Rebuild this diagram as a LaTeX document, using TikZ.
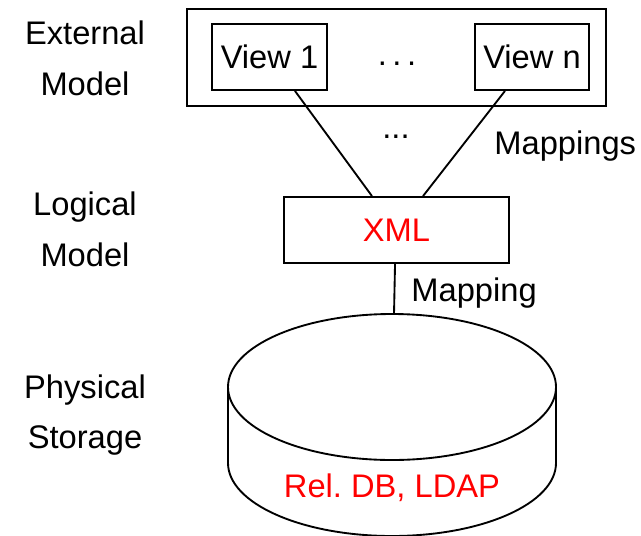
\documentclass[tikz,border=0pt]{standalone}
\usepackage{fontspec}
\setmainfont{Liberation Sans}
\usetikzlibrary{calc}
\frenchspacing
\begin{document}
\begin{tikzpicture}[x=0.75pt,y=-0.75pt,
  line width=1.4pt,
  every node/.style={font=\fontsize{24.5}{38}\selectfont},
  box/.style={draw,rectangle,inner sep=0pt},
  layer/.style={align=center},
  redtext/.style={text=red}]
\useasboundingbox (0,0) rectangle (641,535);

% layer captions
\node[layer] (ext)  at (85,58)  {External\\Model};
\node[layer] (log)  at (85,229) {Logical\\Model};
\node[layer] (phys) at (85,415) {Physical\\Storage};

% external model: views inside a frame
\node[box,minimum width=314.25pt,minimum height=72.75pt] (frame) at (396.5,57.5) {};
\node[box,minimum width=86.25pt,minimum height=49.5pt] (v1) at (269.5,57) {View 1};
\node[box,minimum width=85.5pt,minimum height=49.5pt] (vn) at (532,57) {View n};
\node (vdots) at (397,64) {.\kern4.2pt.\kern4.2pt.};

% logical model
\node[box,minimum width=168.75pt,minimum height=49.5pt,redtext] (xml) at (396.5,230) {XML};

% view mappings
\draw ([xshift=19.1pt]v1.south) -- ([xshift=-18.4pt]xml.north);
\draw ([xshift=-20.25pt]vn.south) -- ([xshift=19.9pt]xml.north);
\node (mdots) at (396,137) {...};
\node[anchor=west] (maps) at (489,146) {Mappings};

% physical storage cylinder
\coordinate (dbtop) at (394,314);
\draw (228,387) -- (228,463)
  arc[start angle=180,end angle=360,x radius=123pt,y radius=54.75pt] -- (556,387);
\draw (392,387) ellipse[x radius=123pt,y radius=54.75pt];
\node[redtext] (db) at (392,488) {Rel. DB, LDAP};

% storage mapping
\draw ([xshift=-1.1pt]xml.south) -- (dbtop);
\node[anchor=west] (map) at (406,293) {Mapping};
\end{tikzpicture}
\end{document}
